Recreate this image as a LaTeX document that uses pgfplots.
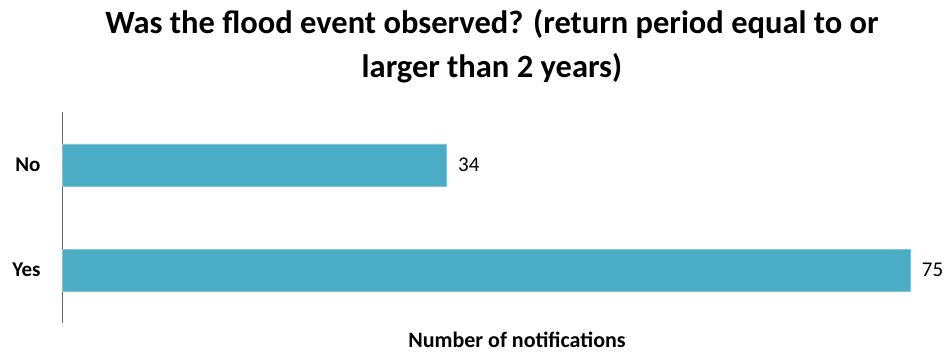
\documentclass[border=0pt]{standalone}
\usepackage{pgfplots}
\pgfplotsset{compat=1.18}
\usepackage{fontspec}
\setmainfont{Carlito}
\definecolor{barblue}{HTML}{4BACC6}
\begin{document}
\begin{tikzpicture}[x=1pt,y=1pt]
\useasboundingbox (0,0) rectangle (948,354);
\node[anchor=base,font=\fontsize{32.5}{38}\selectfont\bfseries] at (492,354-34) {Was the flood event observed? (return period equal to or};
\node[anchor=base,font=\fontsize{32.5}{38}\selectfont\bfseries] at (492,354-78) {larger than 2 years)};
\begin{axis}[
  at={(62pt,31pt)}, anchor=south west,
  scale only axis, width=905pt, height=211pt,
  xmin=0, xmax=80, ymin=-0.5, ymax=1.5,
  xbar, bar width=42pt,
  axis x line=none,
  axis y line*=left,
  y axis line style={draw=gray!80!black, line width=1pt, -},
  ytick={0,1}, yticklabels={Yes,No},
  major tick length=0pt,
  yticklabel style={font=\fontsize{21}{24}\selectfont\bfseries, xshift=-18pt},
  nodes near coords,
  nodes near coords style={font=\fontsize{21}{24}\selectfont, black, anchor=west, xshift=8pt, /pgf/number format/assume math mode=true},
  clip=false,
]
\addplot[fill=barblue, draw=barblue!70!white] coordinates {(75,0) (34,1)};
\end{axis}
\node[anchor=base,font=\fontsize{22}{26}\selectfont\bfseries] at (517,354-347) {Number of notifications};
\end{tikzpicture}
\end{document}
